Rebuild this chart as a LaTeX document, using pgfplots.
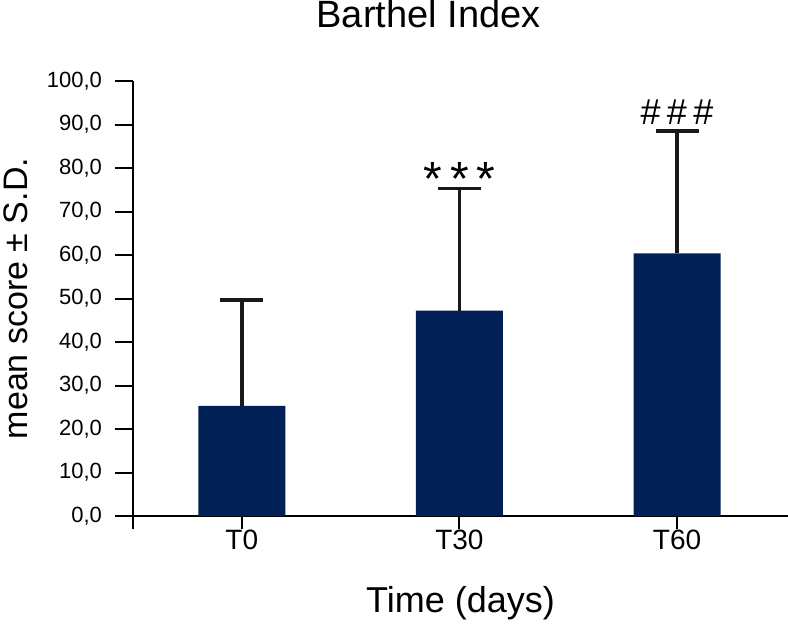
\documentclass[border=0pt]{standalone}
\usepackage{fontspec}
\setmainfont{Liberation Sans}
\usepackage{pgfplots}
\pgfplotsset{compat=1.18}
\usepackage{pgfplotstable}
\definecolor{navy}{RGB}{0,32,86}
\pgfplotstableread{
x y err
0 25.3 24.4
1 47.2 28.1
2 60.4 28.1
}\bartable
\begin{document}
\begin{tikzpicture}
\path[use as bounding box] (-66.5pt,-53.5pt) rectangle (327.5pt,258pt);
\begin{axis}[
  at={(0pt,0pt)}, anchor=south west,
  scale only axis, width=327.5pt, height=217.5pt,
  xmin=-0.5, xmax=2.51, ymin=0, ymax=100,
  axis x line=bottom, axis y line=left,
  axis line style={-, line width=1pt, black},
  xtick={-0.5,0,1,2}, xticklabels={,T0,T30,T60},
  ytick={0,10,...,100},
  tick align=outside,
  major tick length=9pt,
  tick style={line width=1pt, black},
  xtick style={/pgfplots/major tick length=6.5pt},
  yticklabel style={font=\fontsize{11}{13}\selectfont, xshift=-3pt, /pgf/number format/.cd, fixed, fixed zerofill, precision=1, use comma, assume math mode=true},
  xticklabel style={font=\fontsize{14}{16}\selectfont, yshift=5.5pt},
  ylabel={mean score ± S.D.},
  ylabel style={font=\fontsize{17}{19}\selectfont, at={([xshift=-52.5pt]axis description cs:0,0.5)}, anchor=base},
  xlabel={Time (days)},
  xlabel style={font=\fontsize{18}{20}\selectfont, at={([yshift=-48pt]axis description cs:0.5,0)}, anchor=base},
  title={Barthel Index},
  title style={font=\fontsize{19}{21}\selectfont, at={([xshift=147.75pt, yshift=21pt]axis description cs:0,1)}, anchor=base},
  clip=false,
]
\addplot[ybar, bar width=43.5pt, fill=navy, draw=none,
  error bars/.cd, y dir=plus, y explicit,
  error bar style={line width=1.75pt, black!90},
  error mark options={rotate=90, line width=1.75pt, mark size=10.75pt, black!90}]
  table[x=x, y=y, y error=err] {\bartable};
\node[anchor=base, yshift=-12pt, font=\fontsize{24}{26}\selectfont] at (axis cs:1,79.1) {*\hspace{3.7pt}*\hspace{3.7pt}*};
\node[anchor=center, inner sep=0pt, font=\fontsize{18}{20}\selectfont] at (axis cs:2,92.9) {\#\hspace{3.2pt}\#\hspace{3.2pt}\#};
\end{axis}
\end{tikzpicture}
\end{document}
